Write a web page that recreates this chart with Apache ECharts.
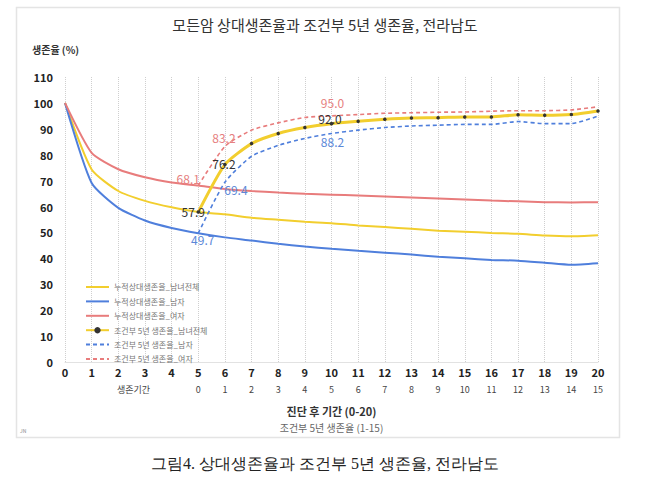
<!DOCTYPE html>
<html>
<head>
<meta charset="utf-8">
<script src="https://cdn.jsdelivr.net/npm/echarts@6/dist/echarts.min.js"></script>
<style>
  html, body { margin: 0; padding: 0; background: #fff; }
  #chart { width: 650px; height: 486px; }
</style>
</head>
<body>
<div id="chart"></div>
<script>
// 진단 후 기간 0-20, 조건부 5년 생존율 기간 0-15
var years = ['0','1','2','3','4','5','6','7','8','9','10','11','12','13','14','15','16','17','18','19','20'];
var condYears = ['','','','','','0','1','2','3','4','5','6','7','8','9','10','11','12','13','14','15'];

var totalCum  = [100, 74.3, 66.0, 62.2, 59.7, 57.9, 57.0, 55.7, 54.9, 54.1, 53.6, 52.7, 52.1, 51.4, 50.7, 50.3, 49.8, 49.5, 48.8, 48.5, 48.9];
var maleCum   = [100, 69.1, 59.5, 54.6, 51.7, 49.7, 48.1, 46.9, 45.6, 44.6, 43.7, 42.9, 42.2, 41.5, 40.6, 40.0, 39.4, 39.1, 38.3, 37.5, 38.1];
var femaleCum = [100, 80.7, 74.4, 71.3, 69.3, 68.1, 66.8, 66.0, 65.4, 64.9, 64.6, 64.3, 63.9, 63.5, 63.1, 62.7, 62.3, 62.0, 61.7, 61.6, 61.7];

var totalCond  = [null, null, null, null, null, 57.9, 76.2, 84.3, 88.2, 90.5, 92.0, 92.9, 93.7, 94.2, 94.3, 94.6, 94.6, 95.4, 95.2, 95.5, 96.9];
var maleCond   = [null, null, null, null, null, 49.7, 69.4, 79.4, 83.6, 86.3, 88.2, 89.5, 90.5, 91.1, 91.4, 91.7, 91.7, 92.8, 92.0, 92.0, 94.9];
var femaleCond = [null, null, null, null, null, 68.1, 83.2, 89.5, 92.3, 94.4, 95.0, 95.5, 96.0, 96.2, 96.4, 96.5, 96.8, 97.0, 97.0, 97.3, 98.5];

var seriesNames = ['누적상대생존율_남녀전체', '누적상대생존율_남자', '누적상대생존율_여자',
                   '조건부 5년 생존율_남녀전체', '조건부 5년 생존율_남자', '조건부 5년 생존율_여자'];

var yellow = '#F2CE2E', blue = '#4F7FDC', red = '#E87C7C';
var font = '"Noto Sans CJK KR", "Noto Sans", sans-serif';

// labels shown only at x=5, 6, 10 (offsets tuned by eye)
function withLabels(values, color, offsets) {
  return values.map(function (v, i) {
    if (offsets[i] === undefined) return v;
    return {
      value: v,
      label: {
        show: true, position: 'top', offset: offsets[i],
        color: color, fontSize: 12, fontFamily: font,
        formatter: function (p) { return p.value.toFixed(1); }
      }
    };
  });
}

var chart = echarts.init(document.getElementById('chart'), null, { renderer: 'svg' });
chart.setOption({
  animation: false,
  title: [{
    text: '모든암 상대생존율과 조건부 5년 생존율, 전라남도',
    left: 'center', top: 12,
    textStyle: { fontSize: 15, fontWeight: 'normal', color: '#333', fontFamily: font }
  }, {
    text: '그림4. 상대생존율과 조건부 5년 생존율, 전라남도',
    left: 'center', top: 450,
    textStyle: { fontSize: 16, fontWeight: 'normal', color: '#222', fontFamily: 'serif' }
  }],
  graphic: [
    { type: 'rect', left: 14, top: 5, shape: { width: 603, height: 430 },
      style: { fill: 'none', stroke: '#e4e4e4', lineWidth: 1.5 } },
    { type: 'text', left: 32, top: 44,
      style: { text: '생존율 (%)', fontSize: 10, fontWeight: 'bold', fill: '#333', fontFamily: font } },
    { type: 'text', left: 117, top: 385,
      style: { text: '생존기간', fontSize: 9, fill: '#444', fontFamily: font } },
    { type: 'text', left: 20, top: 428,
      style: { text: 'JN', fontSize: 5, fill: '#888', fontFamily: font } }
  ],
  legend: {
    data: seriesNames.map(function (n, i) {
      return i === 3 ? { name: n } : { name: n, itemStyle: { opacity: 0 } };
    }),
    orient: 'vertical', left: 80, top: 278,
    itemWidth: 23, itemHeight: 8, itemGap: 6.4,
    textStyle: { fontSize: 8, color: '#777', fontFamily: font }
  },
  grid: { left: 65, right: 52, top: 77, bottom: 124 },
  xAxis: [{
    type: 'category', data: years, boundaryGap: false, position: 'bottom',
    axisLine: { lineStyle: { color: '#e2e2e2' } },
    axisTick: { show: false },
    axisLabel: { color: '#222', fontSize: 11, fontWeight: 'bold', margin: 4, fontFamily: font, interval: 0 },
    splitLine: { show: true, interval: 0, lineStyle: { color: '#cfcfcf', type: 'dotted' } },
    name: '{a|진단 후 기간 (0-20)}\n{b|조건부 5년 생존율 (1-15)}',
    nameLocation: 'middle', nameGap: 40,
    nameTextStyle: {
      rich: {
        a: { fontSize: 11, fontWeight: 'bold', color: '#333', fontFamily: font, lineHeight: 17 },
        b: { fontSize: 10, color: '#666', fontFamily: font, lineHeight: 17 }
      }
    }
  }, {
    type: 'category', data: condYears, boundaryGap: false, position: 'bottom', offset: 15,
    axisLine: { show: false }, axisTick: { show: false },
    axisLabel: { color: '#444', fontSize: 9, margin: 8, fontFamily: font, interval: 0 }
  }],
  yAxis: {
    type: 'value', min: 0, max: 110, interval: 10,
    axisLine: { show: false }, axisTick: { show: false },
    splitLine: { show: false },
    axisLabel: { color: '#222', fontSize: 11, fontWeight: 'bold', margin: 12, fontFamily: font }
  },
  series: [{
    name: seriesNames[0], type: 'line', data: totalCum, smooth: 0.2,
    symbol: 'none', lineStyle: { color: yellow, width: 2 }, itemStyle: { color: yellow }
  }, {
    name: seriesNames[1], type: 'line', data: maleCum, smooth: 0.2,
    symbol: 'none', lineStyle: { color: blue, width: 2 }, itemStyle: { color: blue }
  }, {
    name: seriesNames[2], type: 'line', data: femaleCum, smooth: 0.2,
    symbol: 'none', lineStyle: { color: red, width: 2 }, itemStyle: { color: red }
  }, {
    name: seriesNames[3], type: 'line', smooth: 0.2, z: 4,
    data: withLabels(totalCond, '#333', { 5: [-5, 12.5], 6: [-1, 12], 10: [-1.5, 8] }),
    symbol: 'circle', symbolSize: 3.5, showAllSymbol: true,
    lineStyle: { color: yellow, width: 3 }, itemStyle: { color: '#333' }
  }, {
    name: seriesNames[4], type: 'line', smooth: 0.2,
    data: withLabels(maleCond, '#5B88D8', { 5: [4.5, 17.5], 6: [11, 18.5], 10: [1, 19] }),
    symbol: 'circle', symbolSize: 0.01, showAllSymbol: true,
    lineStyle: { color: blue, width: 1.6, type: [4, 3] }, itemStyle: { color: blue }
  }, {
    name: seriesNames[5], type: 'line', smooth: 0.2,
    data: withLabels(femaleCond, '#E68080', { 5: [-10, 4], 6: [-1, 2], 10: [1, -2] }),
    symbol: 'circle', symbolSize: 0.01, showAllSymbol: true,
    lineStyle: { color: red, width: 1.6, type: [4, 3] }, itemStyle: { color: red }
  }]
});
</script>
</body>
</html>
